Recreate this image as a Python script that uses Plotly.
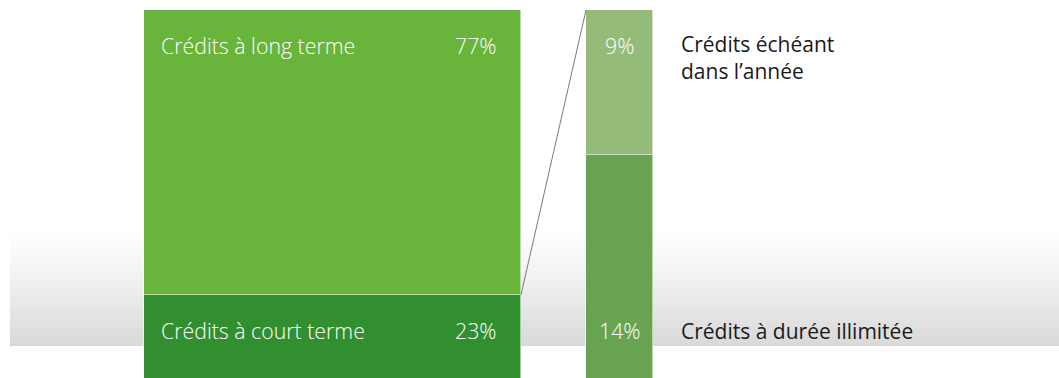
import plotly.graph_objects as go

# Répartition des crédits (en % du total)
main_labels = ["Crédits à court terme", "Crédits à long terme"]
main_values = [23, 77]
main_colors = ["#318f2f", "#69b43b"]

split_labels = ["Crédits à durée illimitée", "Crédits échéant<br>dans l’année"]
split_values = [14, 9]
split_colors = ["#68a351", "#94bb7a"]

W, H = 1059, 378
BAR_TOP, BAR_BOTTOM = 10, 380          # pixel extent of the 100 % column
MAIN_X0, MAIN_X1 = 143.5, 521.0        # main column edges (px)
SPLIT_X0, SPLIT_X1 = 586.0, 653.0      # breakdown column edges (px)

total = sum(main_values)
px_per_unit = (BAR_BOTTOM - BAR_TOP) / total
y_range = [(BAR_BOTTOM - H) / px_per_unit, BAR_BOTTOM / px_per_unit]
split_total = sum(split_values)
y2_range = [v * split_total / total for v in y_range]

FONT = "Open Sans"
edge = dict(color="rgba(255,255,255,0.55)", width=1)

fig = go.Figure()

for lab, val, col in zip(main_labels, main_values, main_colors):
    fig.add_trace(go.Bar(
        x=[(MAIN_X0 + MAIN_X1) / 2], y=[val], width=[MAIN_X1 - MAIN_X0],
        name=lab, marker=dict(color=col, line=edge), yaxis="y",
        hoverinfo="skip", showlegend=False,
    ))

for lab, val, col in zip(split_labels, split_values, split_colors):
    fig.add_trace(go.Bar(
        x=[(SPLIT_X0 + SPLIT_X1) / 2], y=[val], width=[SPLIT_X1 - SPLIT_X0],
        name=lab, marker=dict(color=col, line=edge), yaxis="y2",
        hoverinfo="skip", showlegend=False,
    ))

# soft grey band behind the columns
shapes = []
band_top, band_bottom, steps = 228, 346, 59
for i in range(steps):
    t = i / (steps - 1)
    g = round(255 - 38 * (t ** 1.15))
    y0 = band_top + (band_bottom - band_top) * i / steps
    y1 = band_top + (band_bottom - band_top) * (i + 1) / steps
    shapes.append(dict(
        type="rect", layer="below", xref="x", yref="paper",
        x0=10, x1=W, y0=1 - y1 / H, y1=1 - y0 / H,
        fillcolor=f"rgb({g},{g},{g})", line=dict(width=0),
    ))

# connector from the short-term segment to the breakdown column
shapes.append(dict(
    type="line", xref="x", yref="y",
    x0=MAIN_X1, y0=main_values[0], x1=SPLIT_X0, y1=total,
    line=dict(color="#7a7a7a", width=1),
))

ROW1, ROW2 = 45, 330.5   # label rows (px from top)


def ann(text, x, ypx, xanchor, color, size, weight):
    return dict(
        text=text, x=x, y=1 - ypx / H, xref="x", yref="paper",
        xanchor=xanchor, yanchor="middle", showarrow=False, align="left",
        font=dict(family=FONT, size=size, color=color, weight=weight),
    )


def inner(text, x, ypx, xanchor):
    return ann(text, x, ypx, xanchor, "white", 21.3, 300)


def outer(text, ypx):
    return ann(text, 679, ypx, "left", "#1a1a1a", 21, 400)


annotations = [
    inner(main_labels[1], 159, ROW1, "left"),
    inner(f"{main_values[1]}%", 499, ROW1, "right"),
    inner(main_labels[0], 159, ROW2, "left"),
    inner(f"{main_values[0]}%", 499, ROW2, "right"),
    inner(f"{split_values[1]}%", (SPLIT_X0 + SPLIT_X1) / 2, ROW1, "center"),
    inner(f"{split_values[0]}%", (SPLIT_X0 + SPLIT_X1) / 2, ROW2, "center"),
    outer(split_labels[0], ROW2),
    outer(split_labels[1], ROW1 + 12),
]

fig.update_layout(
    width=W, height=H, margin=dict(l=0, r=0, t=0, b=0),
    paper_bgcolor="white", plot_bgcolor="white",
    barmode="stack", bargap=0,
    xaxis=dict(range=[0, W], visible=False, fixedrange=True),
    yaxis=dict(range=y_range, visible=False, fixedrange=True),
    yaxis2=dict(range=y2_range, visible=False, overlaying="y", fixedrange=True),
    shapes=shapes, annotations=annotations,
    font=dict(family=FONT),
)

fig.write_html("out.html", config={"displayModeBar": False})
